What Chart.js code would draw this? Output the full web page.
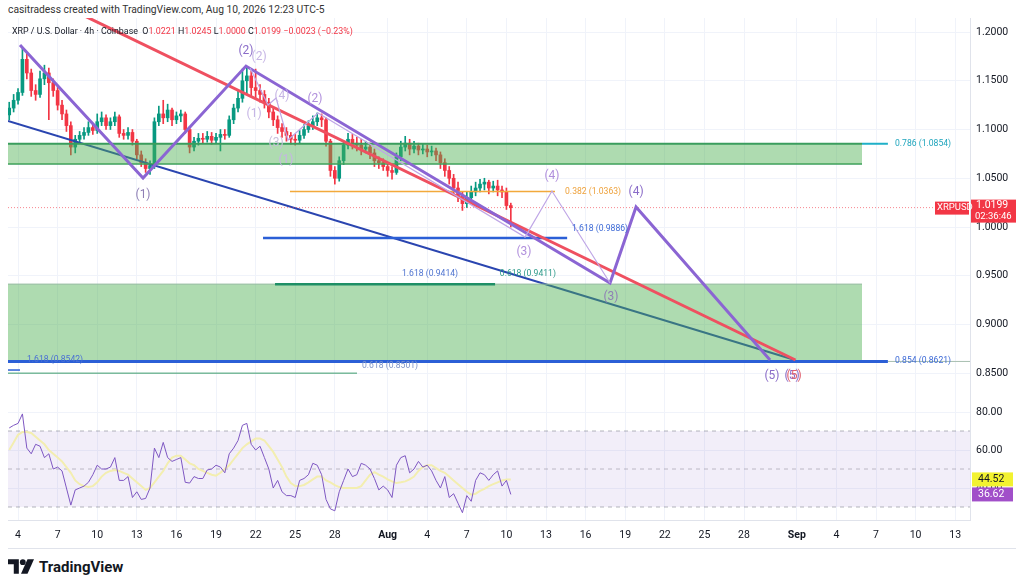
<!DOCTYPE html>
<html>
<head>
<meta charset="utf-8">
<script src="https://cdn.jsdelivr.net/npm/chart.js@4.4.1/dist/chart.umd.min.js"></script>
<style>
body{margin:0;width:1024px;height:588px;background:#fff;position:relative;overflow:hidden;font-family:Roboto,"Liberation Sans",sans-serif}
canvas{position:absolute;left:0}
#main{top:18px}
#rsi{top:398px}
#credit{position:absolute;left:8px;top:3px;font-size:10.3px;color:#333}
#legend{position:absolute;left:12px;top:26px;font-size:8.9px;color:#131722;white-space:nowrap}
#legend .r{color:#f23645}
#frame{position:absolute;left:8px;top:548px;width:1008px;border-top:1px solid #e0e3eb}
#logo{position:absolute;left:8px;top:557px;display:flex;align-items:center;gap:5px;font-size:15px;font-weight:700;color:#131722}
</style>
</head>
<body>
<canvas id="main" width="1024" height="380"></canvas>
<canvas id="rsi" width="1024" height="150"></canvas>
<div id="credit">casitradess created with TradingView.com, Aug 10, 2026 12:23 UTC-5</div>
<div id="legend">XRP / U.S. Dollar · 4h · Coinbase&nbsp; O<span class="r">1.0221</span> H<span class="r">1.0245</span> L<span class="r">1.0000</span> C<span class="r">1.0199</span> <span class="r">−0.0023 (−0.23%)</span></div>
<div id="frame"></div>
<div id="logo"><svg width="26" height="19" viewBox="0 0 36 26"><path d="M0 3h15v20h-7v-13h-8z" fill="#131722"/><circle cx="20.5" cy="7" r="4" fill="#131722"/><path d="M27 3h9l-9 20h-9z" fill="#131722"/></svg><span>TradingView</span></div>
<script>
// XRPUSD, 8h steps
var firstOpen = 1.115;
var closes = [
1.122,1.130,1.138,1.172,1.158,1.140,1.136,1.152,1.158,1.148,
1.140,1.125,1.116,1.104,1.082,1.090,1.094,1.097,1.102,1.099,
1.108,1.112,1.104,1.108,1.113,1.096,1.094,1.097,1.088,1.074,
1.066,1.060,1.063,1.108,1.116,1.112,1.120,1.110,1.114,1.116,
1.100,1.082,1.088,1.091,1.090,1.093,1.089,1.092,1.095,1.094,
1.110,1.122,1.132,1.150,1.155,1.143,1.140,1.136,1.128,1.118,
1.110,1.102,1.098,1.094,1.090,1.089,1.094,1.100,1.104,1.108,
1.112,1.110,1.088,1.058,1.050,1.068,1.084,1.090,1.086,1.084,
1.080,1.082,1.076,1.068,1.066,1.062,1.058,1.056,1.072,1.082,
1.086,1.080,1.083,1.079,1.080,1.077,1.078,1.074,1.066,1.058,
1.050,1.040,1.032,1.024,1.030,1.036,1.040,1.044,1.046,1.040,
1.042,1.038,1.036,1.022,1.0199];
var highs = [
1.128,1.136,1.142,1.183,1.178,1.162,1.146,1.160,1.166,1.163,
1.152,1.144,1.130,1.120,1.108,1.094,1.098,1.102,1.108,1.106,
1.116,1.118,1.115,1.112,1.118,1.115,1.100,1.102,1.100,1.090,
1.078,1.070,1.068,1.112,1.124,1.130,1.126,1.122,1.118,1.120,
1.118,1.102,1.092,1.096,1.096,1.098,1.097,1.096,1.100,1.100,
1.114,1.126,1.140,1.162,1.163,1.160,1.162,1.146,1.140,1.132,
1.122,1.114,1.106,1.102,1.097,1.095,1.099,1.105,1.109,1.114,
1.117,1.116,1.112,1.090,1.062,1.072,1.088,1.096,1.095,1.092,
1.090,1.088,1.086,1.080,1.072,1.070,1.066,1.062,1.076,1.088,
1.093,1.090,1.088,1.086,1.085,1.084,1.083,1.081,1.077,1.070,
1.062,1.054,1.046,1.036,1.036,1.042,1.046,1.049,1.050,1.048,
1.047,1.048,1.042,1.040,1.0245];
var lows = [
1.110,1.118,1.126,1.135,1.152,1.134,1.130,1.133,1.146,1.110,
1.134,1.120,1.110,1.098,1.074,1.076,1.086,1.090,1.094,1.095,
1.096,1.104,1.100,1.100,1.104,1.092,1.090,1.090,1.084,1.070,
1.062,1.056,1.054,1.060,1.104,1.106,1.108,1.104,1.106,1.108,
1.096,1.076,1.078,1.084,1.086,1.087,1.085,1.086,1.078,1.090,
1.092,1.106,1.118,1.128,1.136,1.134,1.132,1.128,1.122,1.112,
1.104,1.096,1.092,1.088,1.085,1.084,1.086,1.091,1.097,1.100,
1.104,1.103,1.083,1.052,1.044,1.047,1.064,1.080,1.080,1.078,
1.074,1.076,1.070,1.062,1.060,1.058,1.052,1.049,1.054,1.068,
1.078,1.074,1.076,1.074,1.075,1.072,1.073,1.068,1.060,1.052,
1.044,1.034,1.026,1.017,1.020,1.026,1.032,1.036,1.038,1.034,
1.036,1.032,1.030,1.018,1.0000];
var rsi = [
71.6,73,74,79,61,58,63,62,56,58,
50,51,49,40,31,39,40,41,43,47,
52,50,50,51,56,44,44,46,35,38,
34,34.5,40,61,56,64,56,54,55,56,
43,42.6,46,45,45,49.5,50,52,51,48,
58,61,65,73,74,63,60,62,56,50,
40,44,38,36,36,35,44,45,47,53,
52,47,34,29,28,38,44,50,46,47,
53,52,50,45,39,41,39,35,52,56,
57,48,50,54,51,52,49,44,40,46,
35,37,32,27,36,33,44,48,47,44,
47,49,41,44,36.62];
var rsiMa = [
60,64,68,69.5,69.5,69,67,65,63,60,
58,56,54,51,48,44,42,41,40.5,41,
43,46,48,49,49.5,49,48,47,45,43,
41,39,40,43,46,49,53,56,57,57,
55,53,52,50,49,48,47,46.5,48,50,
52,55,58,61,63,64.5,66,66,65,62,
59,55,51,46,42.6,41,41,41.6,43,44.5,
46,46,44,43,41.5,40.5,40,40,40,40,
41,44,47,48.4,47,46,44.5,43.5,42.6,43,
43.5,44.5,46,49,51,52,52,50.5,49,48,
46,44,42,40,38,36.5,37,38.5,39.5,41,
42,43,44,44.5,44.52];

// axis ticks (x in days counted from 1 July)
var tickDays = [4,7,10,13,16,19,22,25,28,32,35,38,41,44,47,50,53,56,59,63,66,69,72,75];
var priceTicks = [0.85,0.90,0.95,1.00,1.05,1.10,1.15,1.20];
var rsiTicks = [40,60,80];
var lastPrice = 1.0199, lastRsi = 36.62, lastMa = 44.52;

// drawings, in (day, price)
var boxDays = [3.24,67.94];
var upperBox = [1.0854,1.0646];
var lowerBox = [0.9414,0.8621];
var redDays = [8.0,62.9], redPrices = [1.2233,0.8636];
var blueDiagDays = [3.24,62.86], blueDiagPrices = [1.1087,0.8636];
var waveDays = [4.15,13.47,21.27,48.85,50.82,60.97];
var wavePrices = [1.1867,1.0503,1.1651,0.9426,1.0205,0.8636];
var subDays = [21.58,22.94,23.55,24.45,26.73,42.41,44.45,48.85];
var subPrices = [1.1631,1.1251,1.1323,1.0892,1.1169,0.9897,1.0369,0.9426];
var orangeDays = [24.6,44.68], orangeLevel = 1.0363;
var blueFibDays = [22.56,45.6], blueFibLevel = 0.9886;
var greenFibDays = [23.47,40.14], greenFibLevel = 0.9414;
var tealDays = [67.94,69.9], tealLevel = 1.0854;
var bottomDays = [3.24,69.9], bottomLevel = 0.8621;
var tailDays = [69.9,76.12];
var lowGreenDays = [3.24,29.68], lowGreenLevel = 0.8501;
var stubDays = [3.24,4.15], stubLevel = 0.8533;
var fullDays = [3.24,76.12];

var fibTexts = ['0.786 (1.0854)','0.382 (1.0363)','1.618 (0.9886)','1.618 (0.9414)','0.618 (0.9411)','1.618 (0.8542)','0.618 (0.8501)','0.854 (0.8621)'];
var fibTextDays = [70.44,45.44,45.97,33.09,40.5,4.68,30.06,70.44];
var fibTextPrices = [1.0854,1.0363,0.998,0.9518,0.9518,0.8636,0.8572,0.8626];
var fibTextColors = ['#1fa5bd','#eea13a','#3d6ad6','#4f74d0','#2d9a8a','#4a70d4','#7f95c8','#3d6ad6'];

var waveTexts = ['(1)','(2)','(2)','(4)','(1)','(2)','(3)','(1)','(3)','(4)','(4)','(3)','(5)','(5)','(5)'];
var waveTextDays = [13.47,21.27,22.26,24.0,21.88,26.5,23.55,24.3,42.33,44.45,50.82,48.92,61.12,62.64,62.79];
var waveTextPrices = [1.0328,1.1805,1.1744,1.1344,1.1159,1.1313,1.0862,1.0687,0.9744,1.0523,1.0359,0.9282,0.8472,0.8472,0.8472];
var waveTextColors = ['#8f7fb5','#8a6cc8','#c6b5e5','#c6b5e5','#c6b5e5','#b08fdc','#c9c0dc','#c6b5e5','#b08fdc','#b08fdc','#8a6cc8','#8f7fb5','#8a6cc8','#8a6cc8','#e0606e'];

Chart.defaults.font.family = 'Roboto';
Chart.defaults.color = '#131722';

var candleDays = closes.map(function(c, i){ return 3 + (i + 1) / 3; });
var opens = closes.map(function(c, i){ return i === 0 ? firstOpen : closes[i - 1]; });
var candleColors = closes.map(function(c, i){ return c >= opens[i] ? '#089981' : '#f23645'; });

function pts(xs, ys){ return xs.map(function(x, i){ return {x: x, y: ys[i]}; }); }
function flat(xs, v){ return xs.map(function(x){ return {x: x, y: v}; }); }
function line(data, color, width, order, extra){
	var ds = {type:'line', data:data, borderColor:color, borderWidth:width, pointRadius:0, tension:0, fill:false, order:order};
	for (var k in extra || {}) ds[k] = extra[k];
	return ds;
}

var dayLabel = function(v){
	if (v === 32) return 'Aug';
	if (v === 63) return 'Sep';
	if (v > 63) return String(v - 62);
	if (v > 31) return String(v - 31);
	return String(v);
};

var notes = {
	id:'notes',
	afterDatasetsDraw: function(chart){
		var ctx = chart.ctx, x = chart.scales.x, y = chart.scales.y;
		ctx.save();
		ctx.textBaseline = 'middle';
		ctx.textAlign = 'left';
		ctx.font = '8.6px Roboto';
		fibTexts.forEach(function(t, i){
			ctx.fillStyle = fibTextColors[i];
			ctx.fillText(t, x.getPixelForValue(fibTextDays[i]), y.getPixelForValue(fibTextPrices[i]));
		});
		ctx.textAlign = 'center';
		ctx.font = '12px Roboto';
		waveTexts.forEach(function(t, i){
			ctx.fillStyle = waveTextColors[i];
			ctx.fillText(t, x.getPixelForValue(waveTextDays[i]), y.getPixelForValue(waveTextPrices[i]));
		});
		ctx.restore();
	},
	afterDraw: function(chart){
		var ctx = chart.ctx, y = chart.scales.y;
		var yp = y.getPixelForValue(lastPrice), x0 = y.left;
		ctx.save();
		ctx.fillStyle = '#f23645';
		ctx.fillRect(x0 + 1, yp - 8, 45, 23);
		ctx.fillRect(x0 - 35, yp - 6, 34, 13);
		ctx.fillStyle = '#fff';
		ctx.textBaseline = 'middle';
		ctx.font = '10.5px Roboto';
		ctx.fillText(lastPrice.toFixed(4), x0 + 6, yp - 2);
		ctx.font = '9.5px Roboto';
		ctx.fillText('02:36:46', x0 + 5, yp + 9);
		ctx.fillText('XRPUSD', x0 - 33, yp + 0.5);
		ctx.restore();
	}
};

var rsiBadges = {
	id:'rsiBadges',
	afterDraw: function(chart){
		var ctx = chart.ctx, y = chart.scales.y, x0 = y.left;
		ctx.save();
		ctx.textBaseline = 'middle';
		ctx.font = '10.5px Roboto';
		var ym = y.getPixelForValue(lastMa), yr = y.getPixelForValue(lastRsi);
		ctx.fillStyle = '#f2f230';
		ctx.fillRect(x0 + 2, ym - 7, 41, 14);
		ctx.fillStyle = '#131722';
		ctx.fillText(lastMa.toFixed(2), x0 + 8, ym);
		ctx.fillStyle = '#a14fc9';
		ctx.fillRect(x0 + 2, yr - 7, 41, 14);
		ctx.fillStyle = '#fff';
		ctx.fillText(lastRsi.toFixed(2), x0 + 8, yr);
		ctx.restore();
	}
};

var gridColor = '#f0f3fa';
var xMin = 3.24, xMax = 76.12;

new Chart(document.getElementById('main'), {
	type:'line',
	data:{datasets:[
		{type:'bar', data:candleDays.map(function(d, i){ return {x:d, y:[lows[i], highs[i]]}; }), backgroundColor:candleColors, barThickness:1, grouped:false, order:21},
		{type:'bar', data:candleDays.map(function(d, i){ return {x:d, y:[opens[i], closes[i]]}; }), backgroundColor:candleColors, barThickness:3, minBarLength:1, grouped:false, order:20},
		line(pts(blueDiagDays, blueDiagPrices), '#2a45b0', 2, 15),
		line(flat(boxDays, upperBox[0]), '#3a9d5d', 2, 10, {fill:{value:upperBox[1]}, backgroundColor:'rgba(76,175,80,0.45)'}),
		line(flat(boxDays, upperBox[1]), '#3a9d5d', 1.5, 10),
		line(flat(boxDays, lowerBox[0]), '#8fb79a', 1, 10, {fill:{value:lowerBox[1]}, backgroundColor:'rgba(76,175,80,0.45)'}),
		line(flat(fullDays, lastPrice), 'rgba(242,54,69,0.6)', 1, 9, {borderDash:[1,2]}),
		line(flat(orangeDays, orangeLevel), '#f2a93b', 1.5, 8),
		line(flat(blueFibDays, blueFibLevel), '#2b5fd6', 2.5, 8),
		line(flat(greenFibDays, greenFibLevel), '#1f8f66', 2.5, 8),
		line(flat(tealDays, tealLevel), '#1fb0c8', 2, 8),
		line(flat(bottomDays, bottomLevel), '#2b5fd6', 3, 8),
		line(flat(tailDays, bottomLevel), '#a7bfb0', 1, 8),
		line(flat(lowGreenDays, lowGreenLevel), '#3a9a6a', 1, 8),
		line(flat(stubDays, stubLevel), '#2b5fd6', 1.5, 8),
		line(pts(redDays, redPrices), '#ef5060', 3, 5),
		line(pts(waveDays, wavePrices), '#8b65d3', 3, 4),
		line(pts(subDays, subPrices), '#bfa6e6', 1.2, 3)
	]},
	options:{
		responsive:false, animation:false,
		layout:{padding:{left:8, right:0, top:0, bottom:0}},
		plugins:{legend:{display:false}, tooltip:{enabled:false}},
		scales:{
			x:{type:'linear', min:xMin, max:xMax, offset:false,
				grid:{color:gridColor, drawTicks:false, offset:false},
				border:{display:true, color:'#e0e3eb'},
				ticks:{display:false},
				afterBuildTicks:function(s){ s.ticks = tickDays.map(function(v){ return {value:v}; }); },
				afterFit:function(s){ s.height = 0; s.paddingLeft = 0; s.paddingRight = 0; }},
			y:{position:'right', min:0.8246, max:1.2144,
				grid:{color:gridColor, drawTicks:false},
				border:{display:true, color:'#e0e3eb'},
				ticks:{padding:6, font:{size:10.5}, callback:function(v){ return v.toFixed(4); }},
				afterBuildTicks:function(s){ s.ticks = priceTicks.map(function(v){ return {value:v}; }); },
				afterFit:function(s){ s.width = 54; s.paddingTop = 0; s.paddingBottom = 0; }}
		}
	},
	plugins:[notes]
});

new Chart(document.getElementById('rsi'), {
	type:'line',
	data:{datasets:[
		line(flat(fullDays, 70), 'rgba(0,0,0,0)', 0, 10, {fill:{value:30}, backgroundColor:'rgba(126,87,194,0.1)'}),
		line(flat(fullDays, 70), 'rgba(120,123,134,0.55)', 1, 9, {borderDash:[4,4]}),
		line(flat(fullDays, 50), 'rgba(120,123,134,0.45)', 1, 9, {borderDash:[4,4]}),
		line(flat(fullDays, 30), 'rgba(120,123,134,0.55)', 1, 9, {borderDash:[4,4]}),
		line(pts(candleDays, rsiMa), '#f3eeb0', 2, 3),
		line(pts(candleDays, rsi), '#7e57c2', 1, 2)
	]},
	options:{
		responsive:false, animation:false,
		layout:{padding:{left:8, right:0, top:0, bottom:0}},
		plugins:{legend:{display:false}, tooltip:{enabled:false}},
		scales:{
			x:{type:'linear', min:xMin, max:xMax, offset:false,
				grid:{color:gridColor, drawTicks:false, offset:false},
				border:{display:true, color:'#e0e3eb'},
				ticks:{padding:9, maxRotation:0, autoSkip:false, font:function(c){ var v = c.tick && c.tick.value; return {size:10.5, weight:(v === 32 || v === 63) ? 'bold' : 'normal'}; }, callback:function(v){ return dayLabel(v); }},
				afterBuildTicks:function(s){ s.ticks = tickDays.map(function(v){ return {value:v}; }); },
				afterFit:function(s){ s.height = 28; s.paddingLeft = 0; s.paddingRight = 0; }},
			y:{position:'right', min:23.16, max:87.37,
				grid:{color:gridColor, drawTicks:false},
				border:{display:true, color:'#e0e3eb'},
				ticks:{padding:6, font:{size:10.5}, callback:function(v){ return v.toFixed(2); }},
				afterBuildTicks:function(s){ s.ticks = rsiTicks.map(function(v){ return {value:v}; }); },
				afterFit:function(s){ s.width = 54; s.paddingTop = 0; s.paddingBottom = 0; }}
		}
	},
	plugins:[rsiBadges]
});
</script>
</body>
</html>
